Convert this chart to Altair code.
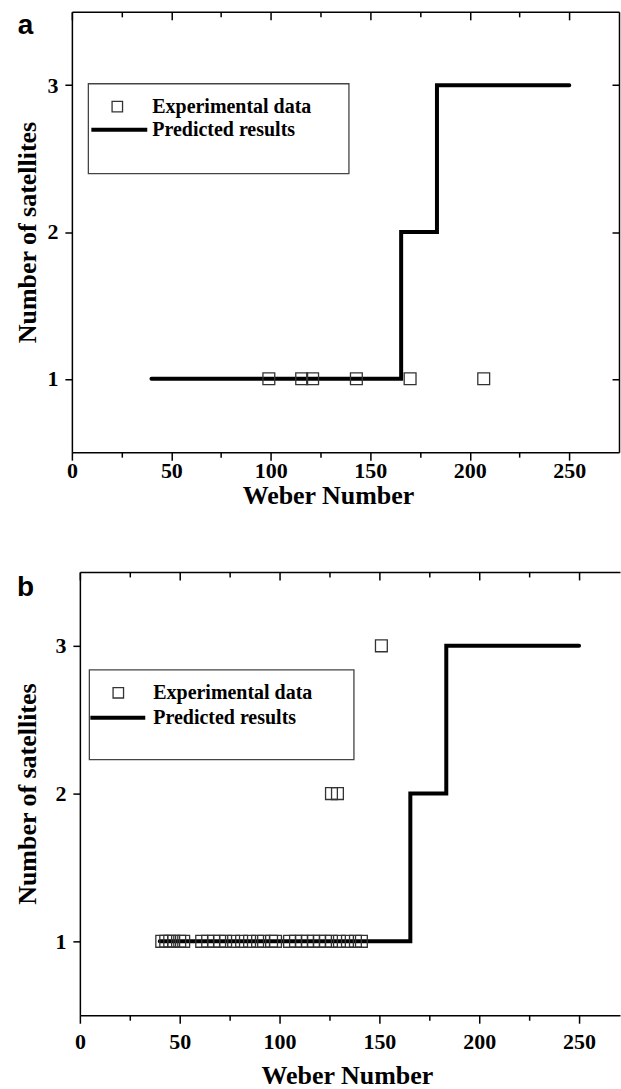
import altair as alt
import pandas as pd

SERIF = "Liberation Serif"
SANS = "Liberation Sans"

# Panel (a): measured number of satellites against Weber number
we_a = [99, 115.5, 121, 143, 170, 207]
sat_a = [1, 1, 1, 1, 1, 1]

# Panel (b): measured number of satellites against Weber number
we_b = [41, 43, 45, 47, 50, 52, 61, 64, 67, 70, 73, 77, 81, 85, 89, 92, 96, 98,
        105, 108, 111, 114, 117, 120, 123, 126, 130, 134, 138, 141,
        126, 129, 151]
sat_b = [1, 1, 1, 1, 1, 1, 1, 1, 1, 1, 1, 1, 1, 1, 1, 1, 1, 1,
         1, 1, 1, 1, 1, 1, 1, 1, 1, 1, 1, 1,
         2, 2, 3]

# Predicted step curve (same model in both panels)
pred_we = [40, 165.5, 165.5, 183.5, 183.5, 250]
pred_sat = [1, 1, 2, 2, 3, 3]
pred_step = [0, 1, 2, 3, 4, 5]

x_major_ticks = [0, 50, 100, 150, 200, 250]
x_minor_ticks = [25, 75, 125, 175, 225]
y_tick_values = [1, 2, 3]
legend_labels = ["Experimental data", "Predicted results"]


def panel(letter, we, sat, cfg):
    exp_df = pd.DataFrame({"we": we, "sat": sat})
    pred_df = pd.DataFrame({"we": pred_we, "sat": pred_sat, "step": pred_step})
    one = pd.DataFrame({"k": [0]})

    x0, x1 = cfg["x_range"]
    height = cfg["height"]
    xs = alt.Scale(domain=cfg["x_domain"], range=[x0, x1], nice=False, zero=False)
    ys = alt.Scale(domain=[0.5, 3.5], nice=False, zero=False)

    common = dict(domainColor="black", domainWidth=1.5, tickColor="black",
                  tickWidth=1.5, grid=False)

    x_main = alt.Axis(orient="bottom", values=x_major_ticks, tickSize=8,
                      labelFont=SERIF, labelFontSize=22, labelFontWeight="bold",
                      labelColor="black", labelPadding=cfg["x_label_pad"],
                      labelOverlap=False, labelFlush=False,
                      title="Weber Number", titleFont=SERIF, titleFontSize=26,
                      titleFontWeight="bold", titleColor="black",
                      titleX=cfg["x_title"][0], titleY=cfg["x_title"][1],
                      titleBaseline="middle", titleAlign="center", **common)
    y_main = alt.Axis(orient="left", offset=-x0, values=y_tick_values, tickSize=7,
                      labelFont=SERIF, labelFontSize=22, labelFontWeight="bold",
                      labelColor="black", labelPadding=7,
                      title="Number of satellites", titleFont=SERIF,
                      titleFontSize=26, titleFontWeight="bold", titleColor="black",
                      titleAngle=270, titleBaseline="middle", titleAlign="center",
                      titleX=cfg["y_title_x"], titleY=height / 2, **common)

    def ghost(x_axis, y_axis=None):
        return alt.Chart(pred_df).mark_point(opacity=0).encode(
            x=alt.X("we:Q", scale=xs, axis=x_axis),
            y=alt.Y("sat:Q", scale=ys, axis=y_axis),
        )

    line = alt.Chart(pred_df).mark_line(color="black", strokeWidth=4, strokeCap="round").encode(
        x=alt.X("we:Q", scale=xs, axis=x_main),
        y=alt.Y("sat:Q", scale=ys, axis=y_main),
        order="step:Q",
    )
    layers = [line]

    # minor ticks below, and the mirrored top edge with inward ticks
    layers.append(ghost(alt.Axis(orient="bottom", values=x_minor_ticks, tickSize=5,
                                 labels=False, domain=False, title=None,
                                 tickColor="black", tickWidth=1.5, grid=False)))
    layers.append(ghost(alt.Axis(orient="bottom", offset=-height, values=x_major_ticks,
                                 tickSize=8, labels=False, title=None, **common)))
    right = None
    if cfg["right_frame"]:
        right = alt.Axis(orient="left", offset=-x1, values=y_tick_values,
                         tickSize=7, labels=False, title=None, **common)
    layers.append(ghost(alt.Axis(orient="bottom", offset=-height, values=x_minor_ticks,
                                 tickSize=5, labels=False, domain=False, title=None,
                                 tickColor="black", tickWidth=1.5, grid=False), right))

    points = alt.Chart(exp_df).mark_point(
        shape="square", filled=False, size=140, color="#333333",
        strokeWidth=1.3, opacity=1,
    ).encode(
        x=alt.X("we:Q", scale=xs, axis=None),
        y=alt.Y("sat:Q", scale=ys, axis=None),
    )
    layers.append(points)

    lg = cfg["legend"]
    layers.append(alt.Chart(one).mark_rect(fillOpacity=0, stroke="#444444", strokeWidth=1.3).encode(
        x=alt.value(lg["box"][0]), x2=alt.value(lg["box"][1]),
        y=alt.value(lg["box"][2]), y2=alt.value(lg["box"][3]),
    ))
    layers.append(alt.Chart(one).mark_point(
        shape="square", filled=False, size=110, color="#333333",
        strokeWidth=1.3, opacity=1,
    ).encode(x=alt.value(lg["sym_x"]), y=alt.value(lg["rows"][0])))
    layers.append(alt.Chart(one).mark_rule(color="black", strokeWidth=4).encode(
        x=alt.value(lg["line"][0]), x2=alt.value(lg["line"][1]),
        y=alt.value(lg["rows"][1]),
    ))
    for lbl, row in zip(legend_labels, lg["rows"]):
        layers.append(alt.Chart(one).mark_text(
            align="left", baseline="middle", font=SERIF, fontSize=20,
            fontWeight="bold", color="black",
        ).encode(x=alt.value(lg["text_x"]), y=alt.value(row), text=alt.value(lbl)))
    layers.append(alt.Chart(one).mark_text(
        align="center", baseline="alphabetic", font=SANS, fontSize=28,
        fontWeight="bold", color="black",
    ).encode(x=alt.value(cfg["tag"][0]), y=alt.value(cfg["tag"][1]),
             text=alt.value(letter)))

    return alt.layer(*layers).resolve_axis(
        x="independent", y="independent"
    ).properties(width=x1, height=height)


panel_a = panel("a", we_a, sat_a, {
    "x_domain": [0, 275], "x_range": [0, 548], "height": 441,
    "right_frame": True,
    "x_label_pad": 0, "x_title": [256.5, 43], "y_title_x": -44.5,
    "tag": [-46.5, 22],
    "legend": {"box": [16.5, 277.5, 72, 162], "sym_x": 45.5, "rows": [95, 118],
               "line": [19.5, 75.5], "text_x": 80.5},
})
panel_b = panel("b", we_b, sat_b, {
    "x_domain": [0, 270.5], "x_range": [8, 549], "height": 444,
    "right_frame": False,
    "x_label_pad": 8, "x_title": [275.5, 60], "y_title_x": -52.5,
    "tag": [-46.5, 24],
    "legend": {"box": [17.5, 282.5, 98, 188], "sym_x": 46.5, "rows": [121, 146],
               "line": [18.5, 73.5], "text_x": 81.5},
})

chart = alt.vconcat(panel_a, panel_b, spacing=61).properties(
    padding={"left": 14, "top": 9, "right": 0, "bottom": 0},
    background="white",
).configure_view(stroke="transparent")

chart.save("out.html", embed_options={"renderer": "svg", "actions": False})
